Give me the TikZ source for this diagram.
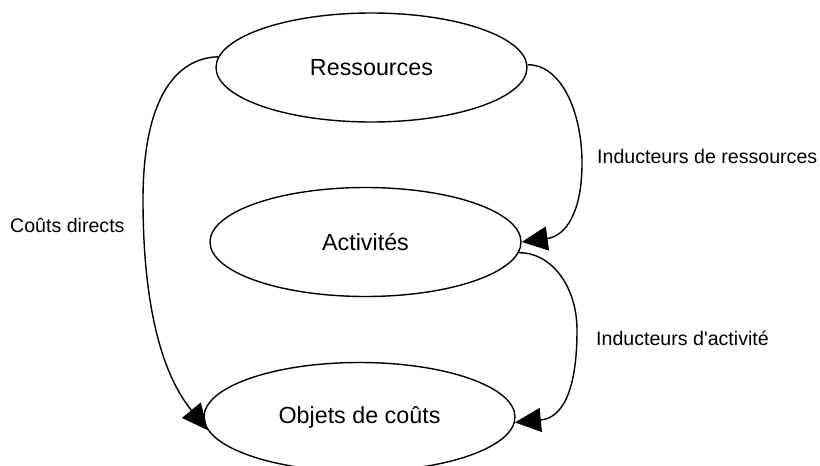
\documentclass[tikz,border=0pt]{standalone}
\usepackage{fontspec}
\setmainfont{Liberation Sans}
\usetikzlibrary{shapes.geometric,arrows.meta}
\begin{document}
\begin{tikzpicture}[x=1pt,y=-1pt,
  ell/.style={draw,line width=1.4pt,ellipse,minimum width=311pt,minimum height=109pt,inner sep=0pt,
    font=\fontsize{23.3}{27}\selectfont},
  lbl/.style={anchor=west,inner sep=0pt,font=\fontsize{19.6}{23}\selectfont},
  conn/.style={line width=1.4pt,-{Triangle[length=26pt,width=24pt]}}]
\useasboundingbox (0,0) rectangle (820,466);
\node[ell] (res) at (371.5,67.5) {Ressources};
\node[ell] (act) at (365.5,242) {Activités};
\node[ell] (obj) at (359.5,417) {Objets de coûts};
\node[lbl] (l1) at (597,156) {Inducteurs de ressources};
\node[lbl] (l2) at (596,338) {Inducteurs d\textquotesingle activité};
\node[lbl] (l3) at (10,225) {Coûts directs};
\draw[conn] (res.176) .. controls (175,58) and (143,100) .. (143,200)
  .. controls (143,300) and (160,372) .. (obj.185);
\draw[conn] (res.1) .. controls (560,64) and (582,110) .. (582,163)
  .. controls (582,212) and (566,236) .. (act.0);
\draw[conn] (act.356) .. controls (550,252) and (577,285) .. (577,330)
  .. controls (577,392) and (562,418) .. (obj.358);
\end{tikzpicture}
\end{document}
